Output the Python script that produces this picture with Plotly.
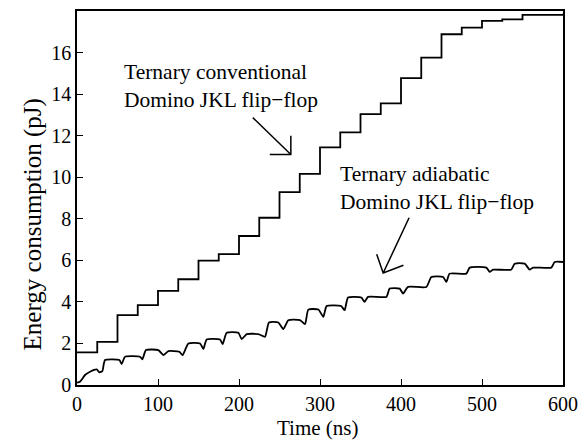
import plotly.graph_objects as go

# Conventional domino JKL flip-flop (staircase): step start times (ns) and levels (pJ)
conv_t = [0, 25, 50, 75, 100, 125, 150, 175, 200, 225, 250, 275, 300, 325, 350,
          375, 400, 425, 450, 475, 500, 525, 550, 600]
conv_e = [1.57, 2.08, 3.36, 3.84, 4.53, 5.09, 5.99, 6.30, 7.17, 8.05, 9.28, 10.16,
          11.44, 12.16, 13.04, 13.55, 14.77, 15.76, 16.88, 17.20, 17.52, 17.60,
          17.81, 17.87]

# Adiabatic domino JKL flip-flop: traced points (ns, pJ)
adi_t = [0, 3.7, 9.9, 16.1, 24.3, 27.6, 31.3, 34.6, 52.3, 55.1, 59.3, 77.8, 80.7,
         85.2, 100.4, 106.6, 112.8, 126.3, 130.4, 137.5, 151.9, 156.0, 160.1,
         176.5, 179.8, 184.8, 199.2, 203.3, 209.5, 223.9, 232.1, 237.0, 248.6,
         254.7, 260.9, 275.3, 281.5, 285.6, 298.0, 304.1, 308.2, 326.0, 330.4,
         334.6, 351.0, 355.0, 359.3, 382.0, 386.0, 398.4, 402.5, 408.7, 431.3,
         437.5, 452.0, 456.0, 460.0, 480.7, 484.8, 505.3, 509.5, 513.6, 536.0,
         540.3, 552.7, 558.8, 563.0, 585.6, 589.7, 600.0]
adi_e = [0.11, 0.16, 0.48, 0.64, 0.75, 0.61, 0.67, 1.20, 1.20, 1.01, 1.36, 1.36, 1.24,
         1.68, 1.68, 1.44, 1.63, 1.60, 1.44, 2.00, 2.00, 1.73, 2.19, 2.19, 1.97,
         2.51, 2.51, 2.21, 2.45, 2.45, 2.32, 3.01, 3.01, 2.69, 3.12, 3.12, 2.93,
         3.63, 3.63, 3.28, 3.80, 3.80, 3.60, 4.21, 4.21, 4.00, 4.24, 4.24, 4.64,
         4.64, 4.40, 4.72, 4.72, 5.20, 5.20, 4.96, 5.36, 5.36, 5.65, 5.65, 5.44,
         5.55, 5.55, 5.84, 5.84, 5.55, 5.65, 5.65, 5.92, 5.92]

x_ticks = [0, 100, 200, 300, 400, 500, 600]
y_ticks = [0, 2, 4, 6, 8, 10, 12, 14, 16]

x_title = "Time (ns)"
y_title = "Energy consumption (pJ)"
label_conv = "Ternary conventional<br>Domino JKL flip\u2212flop"
label_adi = "Ternary adiabatic<br>Domino JKL flip\u2212flop"

FONT = "Liberation Serif"

fig = go.Figure()
fig.add_trace(go.Scatter(x=conv_t, y=conv_e, mode="lines", line_shape="hv",
                         line=dict(color="black", width=1.8), showlegend=False))
fig.add_trace(go.Scatter(x=adi_t, y=adi_e, mode="lines", line_shape="spline",
                         line=dict(color="black", width=1.8, smoothing=0.5),
                         showlegend=False))

# Arrow strokes (open arrowheads), in data coordinates
arrow1 = "M217,12.87 L264,11.09 M238,11.09 L264,11.09 L264,12.0"
arrow2 = "M410,8.05 L378,5.39 M370,6.29 L378,5.39 L403,5.76"
for p in (arrow1, arrow2):
    fig.add_shape(type="path", path=p, xref="x", yref="y",
                  line=dict(color="black", width=1.5))

fig.add_annotation(x=55, y=15.75, xref="x", yref="y", text=label_conv,
                   showarrow=False, xanchor="left", yanchor="top", align="left",
                   font=dict(family=FONT, size=21.5, color="black"))
fig.add_annotation(x=322, y=10.85, xref="x", yref="y", text=label_adi,
                   showarrow=False, xanchor="left", yanchor="top", align="left",
                   font=dict(family=FONT, size=21.5, color="black"))

# Axis titles as positioned text
fig.add_annotation(x=0.495, y=-0.115, xref="paper", yref="paper", text=x_title,
                   showarrow=False, xanchor="center", yanchor="middle",
                   font=dict(family=FONT, size=21, color="black"))
fig.add_annotation(x=-0.09, y=0.43, xref="paper", yref="paper", text=y_title,
                   showarrow=False, xanchor="center", yanchor="middle", textangle=-90,
                   font=dict(family=FONT, size=25, color="black"))

axis_common = dict(showgrid=False, zeroline=False, showline=True, linecolor="black",
                   linewidth=1.5, mirror=True, ticks="inside", ticklen=6,
                   tickwidth=1.2, tickcolor="black", automargin=False,
                   tickfont=dict(family=FONT, size=20, color="black"))

fig.update_xaxes(range=[0, 600], tickvals=x_ticks, **axis_common)
fig.update_yaxes(range=[0, 18], tickvals=y_ticks, **axis_common)

fig.update_layout(width=587, height=445, margin=dict(l=77, r=24, t=11, b=60),
                  plot_bgcolor="white", paper_bgcolor="white",
                  font=dict(family=FONT))

fig.write_html("out.html", config={"displayModeBar": False},
               post_script="document.body.style.margin='0px';")
